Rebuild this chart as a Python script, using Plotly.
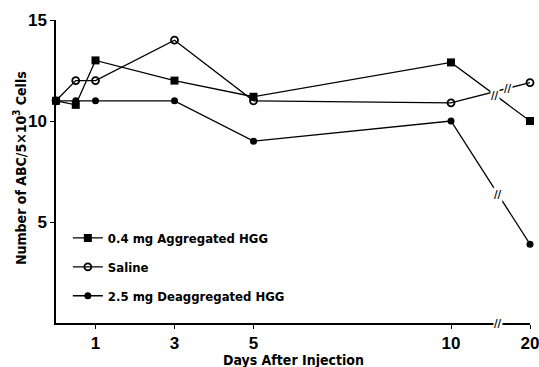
import plotly.graph_objects as go

# Data (days after injection; 20 is drawn after an axis break)
days = [0, 0.5, 1, 3, 5, 10, 20]
aggregated = [11, 10.8, 13, 12, 11.2, 12.9, 10.0]
saline = [11, 12, 12, 14, 11, 10.9, 11.9]
deaggregated = [11, 11, 11, 11, 9.0, 10.0, 3.9]

tick_days = [1, 3, 5, 10, 20]
tick_labels = ["1", "3", "5", "10", "20"]
y_ticks = [5, 10, 15]

BREAK_POS = 12  # axis position used for day 20 (broken axis)


def xpos(d):
    return d if d <= 10 else BREAK_POS


FONT = "Liberation Sans Narrow, DejaVu Sans Condensed, Liberation Sans, sans-serif"
TICKFONT = "Liberation Sans Narrow, Liberation Sans, sans-serif"

# (name, values, marker style, where along the 10->20 segment the break mark sits)
series = [
    ("0.4 mg Aggregated HGG", aggregated, dict(symbol="square", size=8, color="black"), 0.56),
    ("Saline", saline, dict(symbol="circle-open", size=7, color="black", line=dict(width=1.8, color="black")), 0.72),
    ("2.5 mg Deaggregated HGG", deaggregated, dict(symbol="circle", size=7, color="black"), 0.6),
]

fig = go.Figure()
for i, (name, vals, mk, _) in enumerate(series):
    fig.add_trace(go.Scatter(
        x=[xpos(d) for d in days], y=vals, name=name, mode="lines+markers",
        line=dict(color="black", width=1.3), marker=mk, cliponaxis=False,
        legendgroup=f"g{i}",
    ))

annotations = []
for name, vals, mk, f in series:
    x0, x1 = xpos(days[-2]), xpos(days[-1])
    y0, y1 = vals[-2], vals[-1]
    annotations.append(dict(x=x0 + f * (x1 - x0), y=y0 + f * (y1 - y0), text="<b>//</b>",
                            showarrow=False, font=dict(size=11, color="black", family=FONT),
                            bgcolor="white", borderpad=0))
# break on x-axis
annotations.append(dict(x=10 + 0.6 * (BREAK_POS - 10), y=0, text="<b>//</b>", showarrow=False,
                        font=dict(size=11, color="black", family=FONT), bgcolor="white", borderpad=0))
# axis titles
annotations.append(dict(xref="paper", yref="paper", x=0.502, y=-0.121, text="<b>Days After Injection</b>",
                        showarrow=False, font=dict(size=14, family=FONT, color="black"),
                        xanchor="center", yanchor="middle"))
annotations.append(dict(xref="paper", yref="paper", x=-0.0756, y=0.512,
                        text="<b>Number of ABC/5×10<sup>3</sup> Cells</b>", textangle=-90,
                        showarrow=False, font=dict(size=14, family=FONT, color="black"),
                        xanchor="center", yanchor="middle"))

fig.update_layout(
    width=539, height=367,
    margin=dict(l=56, r=9, t=20, b=44),
    paper_bgcolor="white", plot_bgcolor="white",
    font=dict(family=FONT, size=14, color="black"),
    showlegend=True,
    legend=dict(x=0.025, y=0.33, xanchor="left", yanchor="top", bgcolor="rgba(0,0,0,0)",
                font=dict(size=13, family=FONT, weight="bold"), tracegroupgap=9, itemwidth=30,
                traceorder="grouped"),
    annotations=annotations,
    xaxis=dict(range=[0, BREAK_POS], tickvals=[xpos(d) for d in tick_days], ticktext=tick_labels,
               showline=True, linecolor="black", linewidth=1.5, ticks="outside", ticklen=4,
               tickcolor="black", showgrid=False, zeroline=False, automargin=False,
               ticklabeloverflow="allow",
               tickfont=dict(size=17, family=TICKFONT, weight="bold")),
    yaxis=dict(range=[0, 15], tickvals=y_ticks, showline=True, linecolor="black", linewidth=1.5,
               ticks="outside", ticklen=4, tickcolor="black", showgrid=False, zeroline=False,
               automargin=False, ticklabeloverflow="allow",
               tickfont=dict(size=17, family=TICKFONT, weight="bold")),
)

fig.write_html("out.html", config={"displayModeBar": False},
               post_script="document.body.style.margin='0';document.body.style.overflow='hidden';")
